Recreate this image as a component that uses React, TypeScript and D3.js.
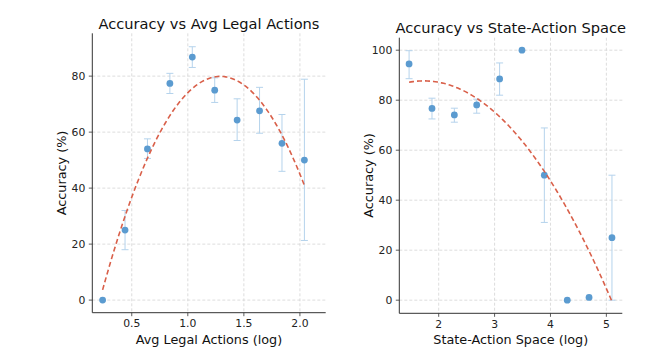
import React from 'react';
import * as d3 from 'd3';

// Avg legal actions (log) panel
const legalX = [0.24, 0.44, 0.64, 0.84, 1.04, 1.24, 1.44, 1.64, 1.84, 2.04];
const legalAcc = [0, 25, 54, 77.4, 86.8, 75, 64.3, 67.6, 56, 50];
const legalErrLow = [null, 18, 50.6, 73.8, 83.1, 70.6, 57.0, 59.6, 46.0, 21.3];
const legalErrHigh = [null, 32, 57.6, 81, 90.5, 79.4, 71.9, 76, 66.3, 78.9];
const legalFit = [-69.2, 178.5, -35.2]; // quadratic a, b, c
const legalTicksX = [0.5, 1.0, 1.5, 2.0];
const legalTicksY = [0, 20, 40, 60, 80];

// State-action space (log) panel
const spaceX = [1.47, 1.88, 2.28, 2.68, 3.09, 3.49, 3.89, 4.3, 4.69, 5.1];
const spaceAcc = [94.5, 76.7, 74.1, 78.1, 88.5, 100, 50, 0, 1.1, 25];
const spaceErrLow = [88.6, 72.5, 71.2, 74.8, 82.0, null, 31.1, null, null, 0];
const spaceErrHigh = [99.8, 80.8, 76.8, 80.4, 94.9, null, 68.9, null, null, 50];
const spaceFit = [-7.79, 27.02, 64.29];
const spaceTicksX = [2, 3, 4, 5];
const spaceTicksY = [0, 20, 40, 60, 80, 100];

const FONT = "'DejaVu Sans', sans-serif";
const DOT = '#5b9bd0';
const ERR = '#b5d3ec';
const FIT = '#d9604a';
const GRID = '#d4d4d4';
const AXIS = '#333';

type PanelProps = {
  title: string;
  xLabel: string;
  xs: number[];
  ys: number[];
  lo: (number | null)[];
  hi: (number | null)[];
  fit: number[];
  xTicks: number[];
  yTicks: number[];
  xDomain: [number, number];
  yDomain: [number, number];
  box: { left: number; right: number; top: number; bottom: number };
  tickFmt: (v: number) => string;
};

function Panel(p: PanelProps) {
  const { box } = p;
  const x = d3.scaleLinear().domain(p.xDomain).range([box.left, box.right]);
  const y = d3.scaleLinear().domain(p.yDomain).range([box.bottom, box.top]);

  const x0 = p.xs[0];
  const x1 = p.xs[p.xs.length - 1];
  const fitPts = d3.range(0, 101).map((i) => {
    const xv = x0 + ((x1 - x0) * i) / 100;
    return [xv, p.fit[0] * xv * xv + p.fit[1] * xv + p.fit[2]] as [number, number];
  });
  const line = d3
    .line<[number, number]>()
    .x((d) => x(d[0]))
    .y((d) => y(d[1]));

  const midX = (box.left + box.right) / 2;
  const midY = (box.top + box.bottom) / 2;

  return (
    <g>
      {/* grid */}
      {p.xTicks.map((t) => (
        <line key={'gx' + t} x1={x(t)} x2={x(t)} y1={box.top} y2={box.bottom}
          stroke={GRID} strokeWidth={0.8} strokeDasharray="3,2" />
      ))}
      {p.yTicks.map((t) => (
        <line key={'gy' + t} x1={box.left} x2={box.right} y1={y(t)} y2={y(t)}
          stroke={GRID} strokeWidth={0.8} strokeDasharray="3,2" />
      ))}

      {/* error bars */}
      {p.xs.map((xv, i) => {
        const l = p.lo[i];
        const h = p.hi[i];
        if (l == null || h == null) return null;
        const cx = x(xv);
        return (
          <g key={'e' + i} stroke={ERR} strokeWidth={1}>
            <line x1={cx} x2={cx} y1={y(l)} y2={y(h)} />
            <line x1={cx - 3.5} x2={cx + 3.5} y1={y(l)} y2={y(l)} />
            <line x1={cx - 3.5} x2={cx + 3.5} y1={y(h)} y2={y(h)} />
          </g>
        );
      })}

      {/* points */}
      {p.xs.map((xv, i) => (
        <circle key={'p' + i} cx={x(xv)} cy={y(p.ys[i])} r={3.4} fill={DOT} />
      ))}

      {/* fit */}
      <path d={line(fitPts) || ''} fill="none" stroke={FIT} strokeWidth={1.6} strokeDasharray="5,3" />

      {/* spines */}
      <line x1={box.left} x2={box.left} y1={box.top} y2={box.bottom} stroke={AXIS} strokeWidth={1} />
      <line x1={box.left} x2={box.right} y1={box.bottom} y2={box.bottom} stroke={AXIS} strokeWidth={1} />

      {/* ticks */}
      {p.xTicks.map((t) => (
        <g key={'tx' + t}>
          <line x1={x(t)} x2={x(t)} y1={box.bottom} y2={box.bottom + 3.5} stroke={AXIS} strokeWidth={0.8} />
          <text x={x(t)} y={box.bottom + 14.5} textAnchor="middle" fontSize={10.8} fontFamily={FONT} fill="#222">
            {p.tickFmt(t)}
          </text>
        </g>
      ))}
      {p.yTicks.map((t) => (
        <g key={'ty' + t}>
          <line x1={box.left - 3.5} x2={box.left} y1={y(t)} y2={y(t)} stroke={AXIS} strokeWidth={0.8} />
          <text x={box.left - 7} y={y(t)} dy="0.35em" textAnchor="end" fontSize={10.8} fontFamily={FONT} fill="#222">
            {t}
          </text>
        </g>
      ))}

      {/* labels */}
      <text x={midX} y={box.bottom + 31} textAnchor="middle" fontSize={12.8} fontFamily={FONT} fill="#111">
        {p.xLabel}
      </text>
      <text transform={`translate(${box.left - 31},${midY}) rotate(-90)`} textAnchor="middle" dy="0.35em"
        fontSize={12.8} fontFamily={FONT} fill="#111">
        Accuracy (%)
      </text>
      <text x={midX} y={box.top - 4.5} textAnchor="middle" fontSize={14.6} fontFamily={FONT} fill="#111">
        {p.title}
      </text>
    </g>
  );
}

export default function App() {
  return (
    <svg width={666} height={354} style={{ position: 'absolute', left: 0, top: 0, background: '#fff' }}>
      <rect width={666} height={354} fill="#fff" />
      <Panel
        title="Accuracy vs Avg Legal Actions"
        xLabel="Avg Legal Actions (log)"
        xs={legalX}
        ys={legalAcc}
        lo={legalErrLow}
        hi={legalErrHigh}
        fit={legalFit}
        xTicks={legalTicksX}
        yTicks={legalTicksY}
        xDomain={[0.148, 2.23]}
        yDomain={[-4.5, 95.3]}
        box={{ left: 92.3, right: 325.7, top: 33.3, bottom: 312.7 }}
        tickFmt={(v) => v.toFixed(1)}
      />
      <Panel
        title="Accuracy vs State-Action Space"
        xLabel="State-Action Space (log)"
        xs={spaceX}
        ys={spaceAcc}
        lo={spaceErrLow}
        hi={spaceErrHigh}
        fit={spaceFit}
        xTicks={spaceTicksX}
        yTicks={spaceTicksY}
        xDomain={[1.295, 5.285]}
        yDomain={[-5.25, 105]}
        box={{ left: 399.3, right: 622.3, top: 37.7, bottom: 313.3 }}
        tickFmt={(v) => String(v)}
      />
    </svg>
  );
}
